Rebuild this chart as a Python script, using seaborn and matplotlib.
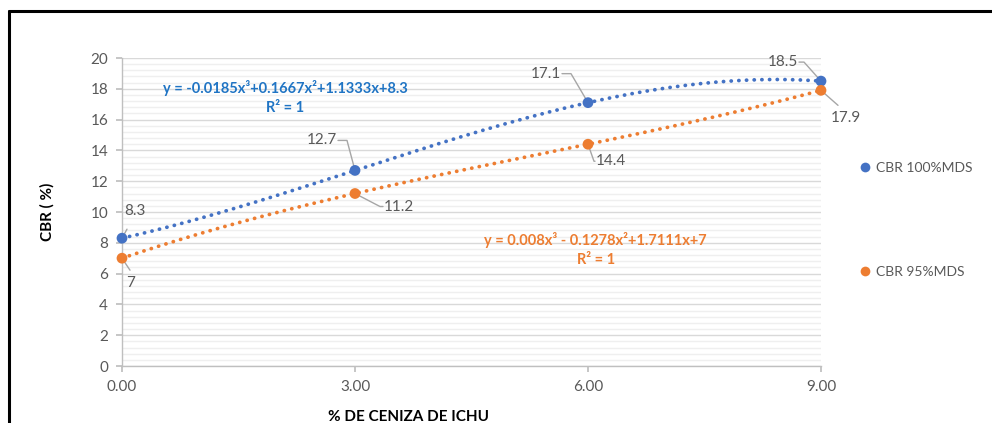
import numpy as np
import pandas as pd
import matplotlib
matplotlib.use("Agg")
import matplotlib.pyplot as plt
import seaborn as sns
from matplotlib.ticker import MultipleLocator, FixedLocator, FormatStrFormatter
from matplotlib.lines import Line2D

# ---- data ----
ceniza = [0.0, 3.0, 6.0, 9.0]
cbr_100 = [8.3, 12.7, 17.1, 18.5]
cbr_95 = [7.0, 11.2, 14.4, 17.9]
series_names = ["CBR 100%MDS", "CBR 95%MDS"]
eq_100 = "y = -0.0185x³+0.1667x²+1.1333x+8.3\nR² = 1"
eq_95 = "y = 0.008x³ - 0.1278x²+1.7111x+7\nR² = 1"
x_ticks = [0, 3, 6, 9]
x_label = "% DE CENIZA DE ICHU"
y_label = "CBR ( %)"

BLUE = "#4472C4"
ORANGE = "#ED7D31"
BLUE_TXT = "#1F74C4"
GRAY_TXT = "#595959"

sns.set_theme(style="white")
plt.rcParams["font.family"] = ["Lato", "DejaVu Sans"]

fig = plt.figure(figsize=(9.92, 4.23), dpi=100)
ax = fig.add_axes([122/992, 1-366/423, (821-122)/992, (366-58)/423])

df = pd.DataFrame({
    "x": ceniza * 2,
    "y": cbr_100 + cbr_95,
    "serie": [series_names[0]] * 4 + [series_names[1]] * 4,
})

# trendlines (cubic polynomial fits)
xs = np.linspace(0, 9, 300)
trend_rows = []
for name, vals in zip(series_names, [cbr_100, cbr_95]):
    coef = np.polyfit(ceniza, vals, 3)
    trend_rows.append(pd.DataFrame({"x": xs, "y": np.polyval(coef, xs), "serie": name}))
trend = pd.concat(trend_rows)

palette = {series_names[0]: BLUE, series_names[1]: ORANGE}
sns.lineplot(data=trend, x="x", y="y", hue="serie", palette=palette, ax=ax,
             legend=False, linewidth=2.7, linestyle=(0, (0.05, 2.0)),
             dash_capstyle="round", zorder=3)
for ln in ax.get_lines():
    ln.set_dash_capstyle("round")
    ln.set_clip_on(False)
sns.scatterplot(data=df, x="x", y="y", hue="serie", palette=palette, ax=ax,
                legend=False, s=60, edgecolor="none", zorder=4, clip_on=False)

ax.set_xlim(0, 9)
ax.set_ylim(0, 20)
ax.xaxis.set_major_locator(FixedLocator(x_ticks))
ax.xaxis.set_major_formatter(FormatStrFormatter("%.2f"))
ax.yaxis.set_major_locator(MultipleLocator(2))
ax.yaxis.set_minor_locator(MultipleLocator(0.4))
ax.grid(axis="y", which="major", color="#D9D9D9", linewidth=1.0, zorder=0)
ax.grid(axis="y", which="minor", color="#EFEFEF", linewidth=1.0, zorder=0)
ax.grid(axis="x", visible=False)
ax.set_axisbelow(True)
for s in ["top", "right"]:
    ax.spines[s].set_visible(False)
for s in ["left", "bottom"]:
    ax.spines[s].set_color("#BFBFBF")
    ax.spines[s].set_linewidth(1.0)
ax.tick_params(axis="both", which="major", direction="out", length=4,
               color="#BFBFBF", labelcolor=GRAY_TXT, labelsize=11, pad=6,
               left=True, bottom=True)
ax.tick_params(axis="y", which="minor", length=0)

ax.set_xlabel(x_label, fontsize=11, fontweight="bold", color="black")
ax.set_ylabel(y_label, fontsize=11, fontweight="bold", color="black")
ax.xaxis.set_label_coords((408-122)/699, (366-410)/308)
ax.yaxis.set_label_coords((55-122)/699, (366-212)/308)

# data labels with leader lines: (x, y, text offset px, ha, corner offset px)
lab_specs = [
    (ceniza[0], cbr_100[0], (2, 27), "left", (5, 9)),
    (ceniza[0], cbr_95[0], (9, -25), "center", (8, -12)),
    (ceniza[1], cbr_100[1], (-33, 30), "center", (-8, 30)),
    (ceniza[1], cbr_95[1], (44, -13), "center", (25, -13)),
    (ceniza[2], cbr_100[2], (-42, 29), "center", (-17, 29)),
    (ceniza[2], cbr_95[2], (23, -17), "center", (6, -17)),
    (ceniza[3], cbr_100[3], (-38, 19), "center", (-17, 19)),
    (ceniza[3], cbr_95[3], (25, -28), "center", (17, -15)),
]
all_vals = [cbr_100[0], cbr_95[0], cbr_100[1], cbr_95[1], cbr_100[2], cbr_95[2], cbr_100[3], cbr_95[3]]
for (x, y, off, ha, corner), v in zip(lab_specs, all_vals):
    txt = f"{v:g}"
    ax.annotate(txt, (x, y), xytext=off, textcoords="offset pixels",
                ha=ha, va="center", fontsize=11, color=GRAY_TXT, zorder=6,
                annotation_clip=False)
    disp = ax.transData.transform((x, y))
    tr = ax.transData.inverted()
    p_corner = tr.transform((disp[0] + corner[0], disp[1] + corner[1]))
    if abs(off[0]) > abs(corner[0]) + 12:
        sign = 1 if off[0] > 0 else -1
        p_end = tr.transform((disp[0] + off[0] - sign * 16, disp[1] + corner[1]))
        xs_l = [x, p_corner[0], p_end[0]]
        ys_l = [y, p_corner[1], p_end[1]]
    else:
        xs_l = [x, p_corner[0]]
        ys_l = [y, p_corner[1]]
    ax.plot(xs_l, ys_l, color="#A6A6A6", linewidth=1.0, zorder=2, clip_on=False)

# equations
ax.text(2.1, 17.45, eq_100, color=BLUE_TXT, fontsize=10.5, fontweight="bold",
        ha="center", va="center", linespacing=1.45, zorder=6, multialignment="center")
ax.text(6.1, 7.55, eq_95, color=ORANGE, fontsize=10.5, fontweight="bold",
        ha="center", va="center", linespacing=1.45, zorder=6, multialignment="center")

# legend
handles = [Line2D([], [], marker="o", linestyle="none", markersize=7,
                  markerfacecolor=c, markeredgecolor="none") for c in (BLUE, ORANGE)]
fig.legend(handles, series_names, loc="center left",
           bbox_to_anchor=(852/992, 1-220/423), frameon=False, fontsize=10,
           labelcolor=GRAY_TXT, labelspacing=6.6, handlelength=0.8,
           handletextpad=0.4, borderpad=0)

# frame of the picture (left and top edges)
fig.add_artist(Line2D([9/992, 9/992], [0, 1-11/423], color="black", linewidth=2.2,
                      transform=fig.transFigure))
fig.add_artist(Line2D([9/992, 1], [1-11/423, 1-11/423], color="black", linewidth=2.2,
                      transform=fig.transFigure))

fig.savefig("out.png", dpi=100)
